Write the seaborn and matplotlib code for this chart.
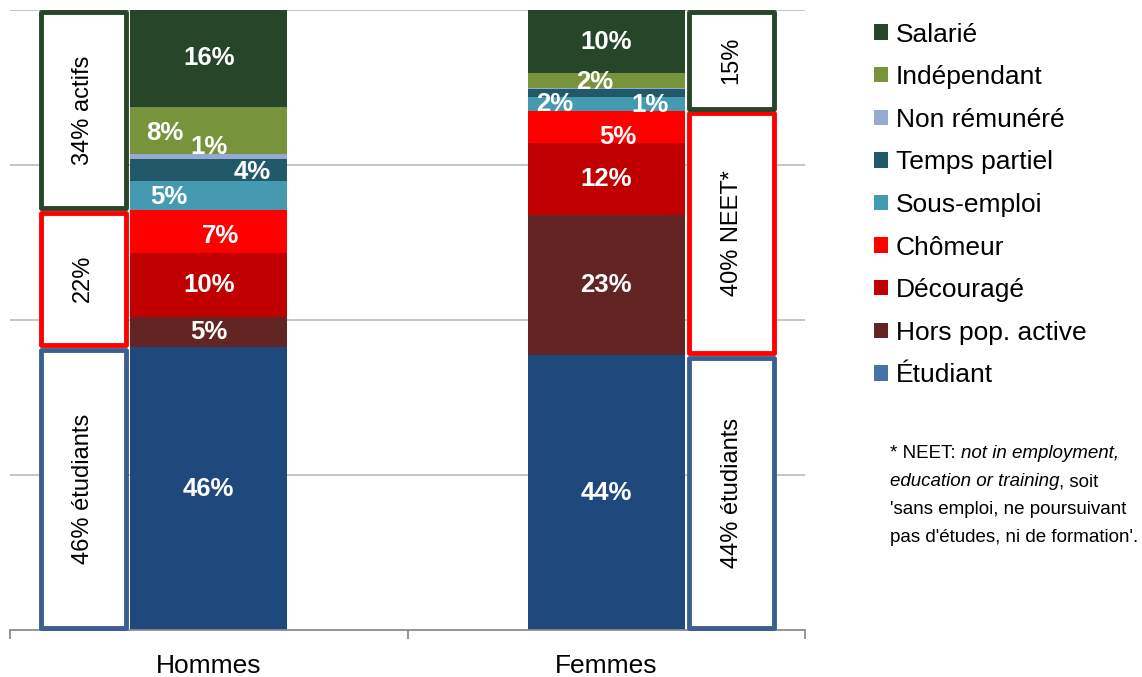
import numpy as np
import pandas as pd
import matplotlib
matplotlib.use("Agg")
import matplotlib.pyplot as plt
from matplotlib.patches import Rectangle, Patch
import seaborn as sns

# ---- data -------------------------------------------------------------
groupes = ["Hommes", "Femmes"]
# statuses listed from the bottom of the stack to the top
statuts = ["Étudiant", "Hors pop. active", "Découragé", "Chômeur",
           "Sous-emploi", "Temps partiel", "Non rémunéré", "Indépendant", "Salarié"]
parts_hommes = [45.6, 4.9, 10.3, 6.9, 4.7, 3.6, 0.8, 7.6, 15.6]
parts_femmes = [44.3, 22.6, 11.6, 5.2, 2.3, 1.2, 0.2, 2.4, 10.2]

# bracket groups: statuses covered by each framed box (bottom to top)
blocs = [["Étudiant"],
         ["Hors pop. active", "Découragé", "Chômeur"],
         ["Sous-emploi", "Temps partiel", "Non rémunéré", "Indépendant", "Salarié"]]
textes_hommes = ["46% étudiants", "22%", "34% actifs"]
textes_femmes = ["44% étudiants", "40% NEET*", "15%"]

# ---- style ------------------------------------------------------------
couleurs = {
    "Salarié": "#264529", "Indépendant": "#77933c", "Non rémunéré": "#95a9d3",
    "Temps partiel": "#215968", "Sous-emploi": "#4599b0", "Chômeur": "#ff0000",
    "Découragé": "#c00000", "Hors pop. active": "#632523", "Étudiant": "#1f497d",
}
couleurs_legende = dict(couleurs, **{"Étudiant": "#4672a9"})
couleurs_blocs = ["#3b5f8f", "#ff0000", "#264529"]

# label nudges (x in category units, y in percentage points)
decalages = {
    ("Hommes", "Indépendant"): (-0.11, -0.4),
    ("Hommes", "Non rémunéré"): (0.0, 1.5),
    ("Hommes", "Temps partiel"): (0.11, -0.3),
    ("Hommes", "Sous-emploi"): (-0.10, -0.2),
    ("Hommes", "Chômeur"): (0.03, -0.7),
    ("Femmes", "Indépendant"): (-0.03, -0.2),
    ("Femmes", "Sous-emploi"): (-0.13, 0.0),
    ("Femmes", "Temps partiel"): (0.11, -1.9),
    ("Femmes", "Chômeur"): (0.03, -1.6),
}

sns.set_style("white")
plt.rcParams["font.family"] = ["Liberation Sans", "DejaVu Sans"]
plt.rcParams["text.color"] = "black"
plt.rcParams["xtick.color"] = "#8c8c8c"
plt.rcParams["xtick.labelcolor"] = "black"

df = pd.DataFrame({
    "groupe": np.repeat(groupes, len(statuts)),
    "statut": statuts * len(groupes),
    "part": parts_hommes + parts_femmes,
})
df["cumul"] = df.groupby("groupe")["part"].cumsum()

W, H = 1142, 677
fig = plt.figure(figsize=(W / 100, H / 100), dpi=100)
ax = fig.add_axes([10 / W, 1 - 630 / H, 795 / W, 620 / H])

largeur = 0.395
# stacked bars: draw the cumulative totals from the top layer down
for s in reversed(statuts):
    couche = df[df["statut"] == s]
    sns.barplot(data=couche, x="groupe", y="cumul", order=groupes,
                color=couleurs[s], width=largeur, saturation=1,
                errorbar=None, linewidth=0, ax=ax)

ax.set_xlim(-0.5, 1.5)
ax.set_ylim(0, 100)
ax.set_xlabel("")
ax.set_ylabel("")

# value labels
for _, r in df.iterrows():
    if r["part"] < 0.5:
        continue
    gx = groupes.index(r["groupe"])
    dx, dy = decalages.get((r["groupe"], r["statut"]), (0.0, 0.0))
    ax.text(gx + dx, r["cumul"] - r["part"] / 2 + dy, f"{r['part']:.0f}%",
            ha="center", va="center", color="white", fontsize=18.5,
            fontweight="bold", zorder=5)

# framed boxes beside the bars
lw = 3.5
lw_x = lw / 72 * 100 / 397.5
lw_y = lw / 72 * 100 / 6.2
box_w = 0.226
ecart = 0.005
for gx, g, textes in [(0, "Hommes", textes_hommes), (1, "Femmes", textes_femmes)]:
    sub = df[df["groupe"] == g].set_index("statut")
    if gx == 0:
        x_out0 = gx - largeur / 2 - ecart - box_w
    else:
        x_out0 = gx + largeur / 2 + ecart
    for bloc, txt, col in zip(blocs, textes, couleurs_blocs):
        y_hi = sub.loc[bloc[-1], "cumul"]
        y_lo = sub.loc[bloc[0], "cumul"] - sub.loc[bloc[0], "part"]
        rect = Rectangle((x_out0 + lw_x / 2, y_lo + lw_y / 2),
                         box_w - lw_x, (y_hi - y_lo) - lw_y,
                         facecolor="white", edgecolor=col, linewidth=lw,
                         joinstyle="round", clip_on=False, zorder=4)
        ax.add_patch(rect)
        ax.text(x_out0 + box_w / 2, (y_lo + y_hi) / 2, txt, rotation=90,
                ha="center", va="center", fontsize=17, color="black", zorder=6)

# axes styling
ax.set_yticks([25, 50, 75, 100])
ax.set_yticklabels([])
ax.tick_params(axis="y", length=0)
ax.yaxis.grid(True, color="#c0c0c0", linewidth=1.3)
ax.set_axisbelow(True)
for sp in ["left", "right", "top"]:
    ax.spines[sp].set_visible(False)
ax.spines["bottom"].set_color("#8c8c8c")
ax.spines["bottom"].set_linewidth(1.3)
ax.set_xticks([0, 1])
ax.set_xticklabels(groupes, fontsize=19, color="black")
ax.set_xticks([-0.5, 0.5, 1.5], minor=True)
ax.tick_params(axis="x", which="major", length=0, pad=17, bottom=True)
ax.tick_params(axis="x", which="minor", length=6.5, width=1.3, bottom=True,
               color="#8c8c8c", direction="out")

# legend
ordre = list(reversed(statuts))
poignees = [Patch(facecolor=couleurs_legende[s], edgecolor="none") for s in ordre]
fig.legend(poignees, ordre, loc="upper left", bbox_to_anchor=(874 / W, 1 - 22.5 / H),
           frameon=False, fontsize=19, handlelength=0.52, handleheight=0.52,
           handletextpad=0.3, labelspacing=0.705, borderpad=0, borderaxespad=0,
           labelcolor="black")

# footnote with italic fragments
x0 = 890 / W
lignes = [
    [("* NEET: ", "normal"), ("not in employment,", "italic")],
    [("education or training", "italic"), (", soit", "normal")],
    [("'sans emploi, ne poursuivant", "normal")],
    [("pas d'études, ni de formation'.", "normal")],
]
ys = [453, 482, 510, 538]
for morceaux, yp in zip(lignes, ys):
    prec = None
    for txt, st in morceaux:
        if prec is None:
            prec = fig.text(x0, 1 - yp / H, txt, ha="left", va="center",
                            fontsize=13.5, style=st, color="black")
        else:
            prec = ax.annotate(txt, xy=(1, 0), xycoords=prec, ha="left",
                               va="bottom", fontsize=13.5, style=st,
                               color="black", annotation_clip=False)

fig.savefig("out.png", dpi=100)
